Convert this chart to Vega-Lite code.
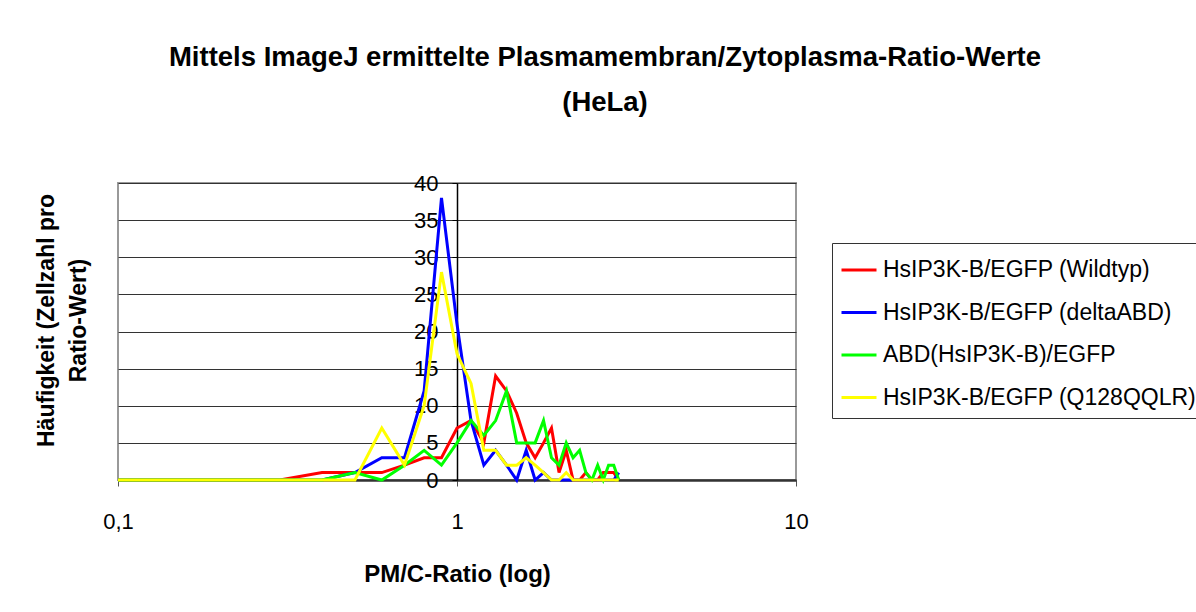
{
  "$schema": "https://vega.github.io/schema/vega-lite/v6.json",
  "width": 678,
  "height": 297,
  "autosize": {"type": "none"},
  "padding": {"left": 118, "top": 183, "right": 400, "bottom": 132},
  "background": "white",
  "title": {
    "text": ["Mittels ImageJ ermittelte Plasmamembran/Zytoplasma-Ratio-Werte", "(HeLa)"],
    "font": "Liberation Sans",
    "fontSize": 27.5,
    "fontWeight": "bold",
    "color": "black",
    "anchor": "middle",
    "lineHeight": 45,
    "offset": 56,
    "dx": 148
  },
  "config": {
    "view": {"stroke": "#999999", "strokeWidth": 2},
    "axis": {
      "labelFont": "Liberation Sans",
      "labelFontSize": 22,
      "labelColor": "black",
      "titleFont": "Liberation Sans",
      "titleFontSize": 20,
      "titleFontWeight": "bold",
      "titleColor": "black",
      "zindex": 0
    }
  },
  "data": {
    "values": [
      {"series": "HsIP3K-B/EGFP (Wildtyp)", "ratio": 0.1, "count": 0},
      {"series": "HsIP3K-B/EGFP (Wildtyp)", "ratio": 0.2, "count": 0},
      {"series": "HsIP3K-B/EGFP (Wildtyp)", "ratio": 0.3, "count": 0},
      {"series": "HsIP3K-B/EGFP (Wildtyp)", "ratio": 0.4, "count": 1},
      {"series": "HsIP3K-B/EGFP (Wildtyp)", "ratio": 0.5, "count": 1},
      {"series": "HsIP3K-B/EGFP (Wildtyp)", "ratio": 0.6, "count": 1},
      {"series": "HsIP3K-B/EGFP (Wildtyp)", "ratio": 0.7, "count": 2},
      {"series": "HsIP3K-B/EGFP (Wildtyp)", "ratio": 0.8, "count": 3},
      {"series": "HsIP3K-B/EGFP (Wildtyp)", "ratio": 0.9, "count": 3},
      {"series": "HsIP3K-B/EGFP (Wildtyp)", "ratio": 1.0, "count": 7},
      {"series": "HsIP3K-B/EGFP (Wildtyp)", "ratio": 1.1, "count": 8},
      {"series": "HsIP3K-B/EGFP (Wildtyp)", "ratio": 1.2, "count": 5},
      {"series": "HsIP3K-B/EGFP (Wildtyp)", "ratio": 1.3, "count": 14},
      {"series": "HsIP3K-B/EGFP (Wildtyp)", "ratio": 1.4, "count": 12},
      {"series": "HsIP3K-B/EGFP (Wildtyp)", "ratio": 1.5, "count": 9},
      {"series": "HsIP3K-B/EGFP (Wildtyp)", "ratio": 1.6, "count": 5},
      {"series": "HsIP3K-B/EGFP (Wildtyp)", "ratio": 1.7, "count": 3},
      {"series": "HsIP3K-B/EGFP (Wildtyp)", "ratio": 1.8, "count": 5},
      {"series": "HsIP3K-B/EGFP (Wildtyp)", "ratio": 1.9, "count": 7},
      {"series": "HsIP3K-B/EGFP (Wildtyp)", "ratio": 2.0, "count": 1},
      {"series": "HsIP3K-B/EGFP (Wildtyp)", "ratio": 2.1, "count": 4},
      {"series": "HsIP3K-B/EGFP (Wildtyp)", "ratio": 2.2, "count": 0},
      {"series": "HsIP3K-B/EGFP (Wildtyp)", "ratio": 2.3, "count": 0},
      {"series": "HsIP3K-B/EGFP (Wildtyp)", "ratio": 2.4, "count": 1},
      {"series": "HsIP3K-B/EGFP (Wildtyp)", "ratio": 2.5, "count": 0},
      {"series": "HsIP3K-B/EGFP (Wildtyp)", "ratio": 2.6, "count": 0},
      {"series": "HsIP3K-B/EGFP (Wildtyp)", "ratio": 2.7, "count": 1},
      {"series": "HsIP3K-B/EGFP (Wildtyp)", "ratio": 2.8, "count": 1},
      {"series": "HsIP3K-B/EGFP (Wildtyp)", "ratio": 2.9, "count": 1},
      {"series": "HsIP3K-B/EGFP (Wildtyp)", "ratio": 3.0, "count": 0},
      {"series": "HsIP3K-B/EGFP (deltaABD)", "ratio": 0.1, "count": 0},
      {"series": "HsIP3K-B/EGFP (deltaABD)", "ratio": 0.2, "count": 0},
      {"series": "HsIP3K-B/EGFP (deltaABD)", "ratio": 0.3, "count": 0},
      {"series": "HsIP3K-B/EGFP (deltaABD)", "ratio": 0.4, "count": 0},
      {"series": "HsIP3K-B/EGFP (deltaABD)", "ratio": 0.5, "count": 1},
      {"series": "HsIP3K-B/EGFP (deltaABD)", "ratio": 0.6, "count": 3},
      {"series": "HsIP3K-B/EGFP (deltaABD)", "ratio": 0.7, "count": 3},
      {"series": "HsIP3K-B/EGFP (deltaABD)", "ratio": 0.8, "count": 12},
      {"series": "HsIP3K-B/EGFP (deltaABD)", "ratio": 0.9, "count": 38},
      {"series": "HsIP3K-B/EGFP (deltaABD)", "ratio": 1.0, "count": 21},
      {"series": "HsIP3K-B/EGFP (deltaABD)", "ratio": 1.1, "count": 8},
      {"series": "HsIP3K-B/EGFP (deltaABD)", "ratio": 1.2, "count": 2},
      {"series": "HsIP3K-B/EGFP (deltaABD)", "ratio": 1.3, "count": 4},
      {"series": "HsIP3K-B/EGFP (deltaABD)", "ratio": 1.4, "count": 2},
      {"series": "HsIP3K-B/EGFP (deltaABD)", "ratio": 1.5, "count": 0},
      {"series": "HsIP3K-B/EGFP (deltaABD)", "ratio": 1.6, "count": 4},
      {"series": "HsIP3K-B/EGFP (deltaABD)", "ratio": 1.7, "count": 0},
      {"series": "HsIP3K-B/EGFP (deltaABD)", "ratio": 1.8, "count": 1},
      {"series": "HsIP3K-B/EGFP (deltaABD)", "ratio": 1.9, "count": 0},
      {"series": "HsIP3K-B/EGFP (deltaABD)", "ratio": 2.0, "count": 0},
      {"series": "HsIP3K-B/EGFP (deltaABD)", "ratio": 2.1, "count": 0},
      {"series": "HsIP3K-B/EGFP (deltaABD)", "ratio": 2.2, "count": 0},
      {"series": "HsIP3K-B/EGFP (deltaABD)", "ratio": 2.3, "count": 0},
      {"series": "HsIP3K-B/EGFP (deltaABD)", "ratio": 2.4, "count": 0},
      {"series": "HsIP3K-B/EGFP (deltaABD)", "ratio": 2.5, "count": 0},
      {"series": "HsIP3K-B/EGFP (deltaABD)", "ratio": 2.6, "count": 0},
      {"series": "HsIP3K-B/EGFP (deltaABD)", "ratio": 2.7, "count": 0},
      {"series": "HsIP3K-B/EGFP (deltaABD)", "ratio": 2.8, "count": 0},
      {"series": "HsIP3K-B/EGFP (deltaABD)", "ratio": 2.9, "count": 0},
      {"series": "HsIP3K-B/EGFP (deltaABD)", "ratio": 3.0, "count": 1},
      {"series": "ABD(HsIP3K-B)/EGFP", "ratio": 0.1, "count": 0},
      {"series": "ABD(HsIP3K-B)/EGFP", "ratio": 0.2, "count": 0},
      {"series": "ABD(HsIP3K-B)/EGFP", "ratio": 0.3, "count": 0},
      {"series": "ABD(HsIP3K-B)/EGFP", "ratio": 0.4, "count": 0},
      {"series": "ABD(HsIP3K-B)/EGFP", "ratio": 0.5, "count": 1},
      {"series": "ABD(HsIP3K-B)/EGFP", "ratio": 0.6, "count": 0},
      {"series": "ABD(HsIP3K-B)/EGFP", "ratio": 0.7, "count": 2},
      {"series": "ABD(HsIP3K-B)/EGFP", "ratio": 0.8, "count": 4},
      {"series": "ABD(HsIP3K-B)/EGFP", "ratio": 0.9, "count": 2},
      {"series": "ABD(HsIP3K-B)/EGFP", "ratio": 1.0, "count": 5},
      {"series": "ABD(HsIP3K-B)/EGFP", "ratio": 1.1, "count": 8},
      {"series": "ABD(HsIP3K-B)/EGFP", "ratio": 1.2, "count": 6},
      {"series": "ABD(HsIP3K-B)/EGFP", "ratio": 1.3, "count": 8},
      {"series": "ABD(HsIP3K-B)/EGFP", "ratio": 1.4, "count": 12},
      {"series": "ABD(HsIP3K-B)/EGFP", "ratio": 1.5, "count": 5},
      {"series": "ABD(HsIP3K-B)/EGFP", "ratio": 1.6, "count": 5},
      {"series": "ABD(HsIP3K-B)/EGFP", "ratio": 1.7, "count": 5},
      {"series": "ABD(HsIP3K-B)/EGFP", "ratio": 1.8, "count": 8},
      {"series": "ABD(HsIP3K-B)/EGFP", "ratio": 1.9, "count": 3},
      {"series": "ABD(HsIP3K-B)/EGFP", "ratio": 2.0, "count": 2},
      {"series": "ABD(HsIP3K-B)/EGFP", "ratio": 2.1, "count": 5},
      {"series": "ABD(HsIP3K-B)/EGFP", "ratio": 2.2, "count": 3},
      {"series": "ABD(HsIP3K-B)/EGFP", "ratio": 2.3, "count": 4},
      {"series": "ABD(HsIP3K-B)/EGFP", "ratio": 2.4, "count": 1},
      {"series": "ABD(HsIP3K-B)/EGFP", "ratio": 2.5, "count": 0},
      {"series": "ABD(HsIP3K-B)/EGFP", "ratio": 2.6, "count": 2},
      {"series": "ABD(HsIP3K-B)/EGFP", "ratio": 2.7, "count": 0},
      {"series": "ABD(HsIP3K-B)/EGFP", "ratio": 2.8, "count": 2},
      {"series": "ABD(HsIP3K-B)/EGFP", "ratio": 2.9, "count": 2},
      {"series": "ABD(HsIP3K-B)/EGFP", "ratio": 3.0, "count": 0},
      {"series": "HsIP3K-B/EGFP (Q128QQLR)", "ratio": 0.1, "count": 0},
      {"series": "HsIP3K-B/EGFP (Q128QQLR)", "ratio": 0.2, "count": 0},
      {"series": "HsIP3K-B/EGFP (Q128QQLR)", "ratio": 0.3, "count": 0},
      {"series": "HsIP3K-B/EGFP (Q128QQLR)", "ratio": 0.4, "count": 0},
      {"series": "HsIP3K-B/EGFP (Q128QQLR)", "ratio": 0.5, "count": 0},
      {"series": "HsIP3K-B/EGFP (Q128QQLR)", "ratio": 0.6, "count": 7},
      {"series": "HsIP3K-B/EGFP (Q128QQLR)", "ratio": 0.7, "count": 2},
      {"series": "HsIP3K-B/EGFP (Q128QQLR)", "ratio": 0.8, "count": 10},
      {"series": "HsIP3K-B/EGFP (Q128QQLR)", "ratio": 0.9, "count": 28},
      {"series": "HsIP3K-B/EGFP (Q128QQLR)", "ratio": 1.0, "count": 17},
      {"series": "HsIP3K-B/EGFP (Q128QQLR)", "ratio": 1.1, "count": 13},
      {"series": "HsIP3K-B/EGFP (Q128QQLR)", "ratio": 1.2, "count": 4},
      {"series": "HsIP3K-B/EGFP (Q128QQLR)", "ratio": 1.3, "count": 4},
      {"series": "HsIP3K-B/EGFP (Q128QQLR)", "ratio": 1.4, "count": 2},
      {"series": "HsIP3K-B/EGFP (Q128QQLR)", "ratio": 1.5, "count": 2},
      {"series": "HsIP3K-B/EGFP (Q128QQLR)", "ratio": 1.6, "count": 3},
      {"series": "HsIP3K-B/EGFP (Q128QQLR)", "ratio": 1.7, "count": 2},
      {"series": "HsIP3K-B/EGFP (Q128QQLR)", "ratio": 1.8, "count": 1},
      {"series": "HsIP3K-B/EGFP (Q128QQLR)", "ratio": 1.9, "count": 0},
      {"series": "HsIP3K-B/EGFP (Q128QQLR)", "ratio": 2.0, "count": 0},
      {"series": "HsIP3K-B/EGFP (Q128QQLR)", "ratio": 2.1, "count": 1},
      {"series": "HsIP3K-B/EGFP (Q128QQLR)", "ratio": 2.2, "count": 0},
      {"series": "HsIP3K-B/EGFP (Q128QQLR)", "ratio": 2.3, "count": 0},
      {"series": "HsIP3K-B/EGFP (Q128QQLR)", "ratio": 2.4, "count": 0},
      {"series": "HsIP3K-B/EGFP (Q128QQLR)", "ratio": 2.5, "count": 0},
      {"series": "HsIP3K-B/EGFP (Q128QQLR)", "ratio": 2.6, "count": 0},
      {"series": "HsIP3K-B/EGFP (Q128QQLR)", "ratio": 2.7, "count": 0},
      {"series": "HsIP3K-B/EGFP (Q128QQLR)", "ratio": 2.8, "count": 0},
      {"series": "HsIP3K-B/EGFP (Q128QQLR)", "ratio": 2.9, "count": 0},
      {"series": "HsIP3K-B/EGFP (Q128QQLR)", "ratio": 3.0, "count": 0}
    ]
  },
  "mark": {"type": "line", "strokeWidth": 3, "clip": false},
  "encoding": {
    "x": {
      "field": "ratio",
      "type": "quantitative",
      "scale": {"type": "log", "domain": [0.1, 10], "nice": false},
      "axis": {
        "values": [0.1, 1, 10],
        "labelExpr": "datum.value < 0.5 ? '0,1' : datum.label",
        "labelFlush": false,
        "labelOverlap": false,
        "grid": false,
        "domainColor": "#333333",
        "domainWidth": 2.5,
        "tickColor": "#555555",
        "tickSize": 6,
        "labelPadding": 25,
        "title": "PM/C-Ratio (log)",
        "titlePadding": 30,
        "titleFontSize": 24
      }
    },
    "y": {
      "field": "count",
      "type": "quantitative",
      "scale": {"domain": [0, 40], "nice": false},
      "axis": {
        "values": [0, 5, 10, 15, 20, 25, 30, 35, 40],
        "offset": -339,
        "grid": true,
        "gridColor": "#333333",
        "gridWidth": 1,
        "domainColor": "black",
        "domainWidth": 1.5,
        "tickColor": "black",
        "tickSize": 5,
        "labelPadding": 14,
        "labelOverlap": false,
        "title": ["Häufigkeit (Zellzahl pro", "Ratio-Wert)"],
        "titleX": -411,
        "titleY": 137,
        "titleAngle": 270,
        "titleAlign": "center",
        "titleBaseline": "middle",
        "titleFontSize": 23,
        "titleLineHeight": 32
      }
    },
    "color": {
      "field": "series",
      "type": "nominal",
      "scale": {
        "domain": ["HsIP3K-B/EGFP (Wildtyp)", "HsIP3K-B/EGFP (deltaABD)", "ABD(HsIP3K-B)/EGFP", "HsIP3K-B/EGFP (Q128QQLR)"],
        "range": ["#FF0000", "#0000FF", "#00FF00", "#FFFF00"]
      },
      "legend": {
        "orient": "none",
        "legendX": 714,
        "legendY": 60,
        "title": null,
        "strokeColor": "#333333",
        "fillColor": "white",
        "padding": 8,
        "labelFont": "Liberation Sans",
        "labelFontSize": 23,
        "labelColor": "black",
        "labelOffset": 5,
        "labelLimit": 400,
        "symbolType": "stroke",
        "symbolStrokeWidth": 3,
        "symbolSize": 1225,
        "rowPadding": 11.5
      }
    }
  }
}
